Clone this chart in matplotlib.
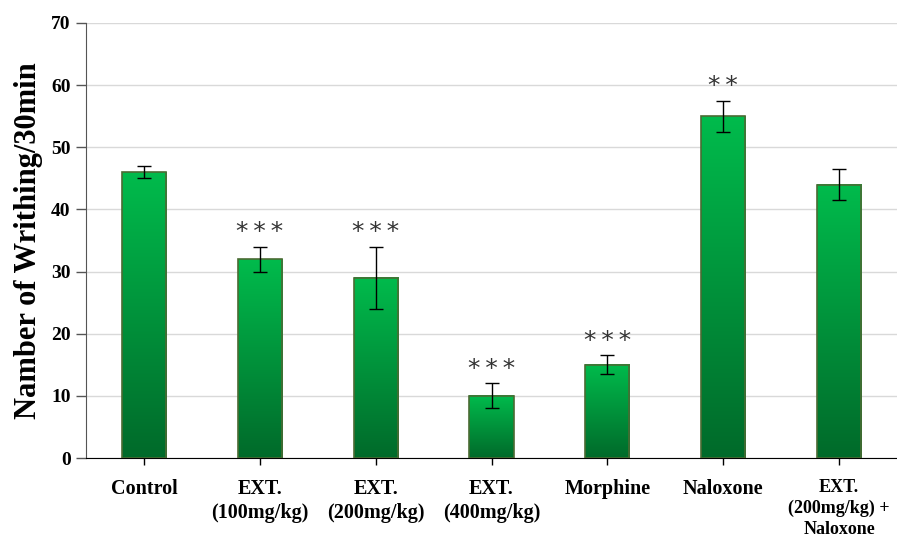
import matplotlib
matplotlib.use("Agg")
import matplotlib.pyplot as plt
import numpy as np
from matplotlib.colors import LinearSegmentedColormap

categories = ["Control", "EXT.\n(100mg/kg)", "EXT.\n(200mg/kg)", "EXT.\n(400mg/kg)",
              "Morphine", "Naloxone", "EXT.\n(200mg/kg) +\nNaloxone"]
values = [46, 32, 29, 10, 15, 55, 44]
errors = [1, 2, 5, 2, 1.5, 2.5, 2.5]
stars = ["", "***", "***", "***", "***", "**", ""]

plt.rcParams['font.family'] = ['Liberation Serif', 'DejaVu Serif']

fig = plt.figure(figsize=(8.97, 5.45), dpi=100)
ax = fig.add_axes([0.0959, 0.1596, 0.9041, 0.7982])

cmap = LinearSegmentedColormap.from_list("g", ["#006A2A", "#00BB4C"])
grad = np.linspace(0, 1, 256).reshape(-1, 1)
width = 0.38
x = np.arange(len(categories))
bars = ax.bar(x, values, width=width, color="none", edgecolor="#4B6B33", linewidth=1.2, zorder=3)
for b in bars:
    x0, y0 = b.get_x(), b.get_y()
    w, h = b.get_width(), b.get_height()
    ax.imshow(grad, cmap=cmap, aspect="auto", origin="lower",
              extent=[x0, x0 + w, y0, y0 + h], zorder=2)
ax.errorbar(x, values, yerr=errors, fmt="none", ecolor="black", elinewidth=1.0,
            capsize=5, capthick=1.0, zorder=4)
for xi, v, e, s in zip(x, values, errors, stars):
    if s:
        ax.text(xi, v + e + 0.4, "\u2009".join(s), ha="center", va="bottom", fontsize=18,
                color="#333333", family="DejaVu Sans")

ax.set_xlim(-0.5, len(categories) - 0.5)
ax.set_ylim(0, 70)
ax.set_yticks(range(0, 71, 10))
ax.set_xticks(x)
ax.set_xticklabels(categories, fontsize=14.5, fontweight="bold", linespacing=1.3)
ax.get_xticklabels()[-1].set_fontsize(13)
for lbl in ax.get_yticklabels():
    lbl.set_fontsize(14)
    lbl.set_fontweight("bold")
ax.set_ylabel("Namber of Writhing/30min", fontsize=22, fontweight="bold", labelpad=6)
ax.yaxis.grid(True, color="#d9d9d9", linewidth=1.0, zorder=0)
ax.set_axisbelow(True)
for sp in ["top", "right"]:
    ax.spines[sp].set_visible(False)
ax.spines["left"].set_color("#555555")
ax.spines["bottom"].set_color("black")
ax.tick_params(axis="y", length=7, width=1, color="#555555", pad=4)
ax.tick_params(axis="x", length=5, width=1, pad=10)

fig.savefig("out.png", dpi=100)
